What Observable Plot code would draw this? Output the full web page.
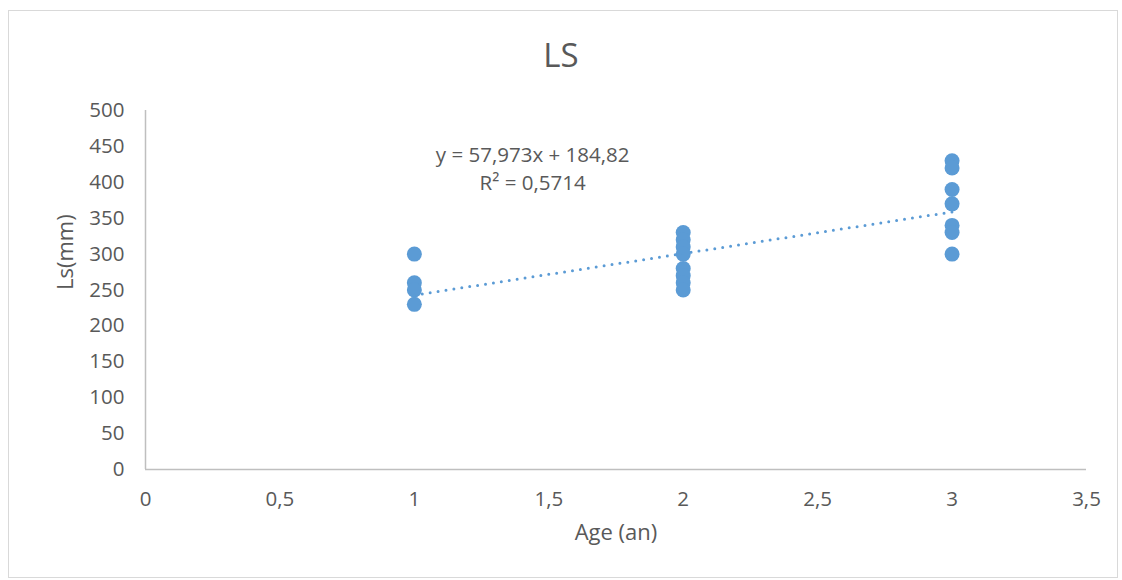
<!DOCTYPE html>
<html>
<head>
<meta charset="utf-8">
<script src="https://cdn.jsdelivr.net/npm/d3@7"></script>
<script src="https://cdn.jsdelivr.net/npm/@observablehq/plot@0.6"></script>
<style>
  html, body { margin: 0; padding: 0; background: #fff; }
  #wrap { position: relative; width: 1122px; height: 580px; font-family: "Open Sans", sans-serif; color: #595959; }
  #frame { position: absolute; left: 8px; top: 10px; width: 1110px; height: 568px; border: 1px solid #d9d9d9; box-sizing: border-box; }
  #title { position: absolute; left: 0; width: 1122px; top: 33px; text-align: center; font-size: 33px; color: #595959; line-height: 44px; }
  #chart { position: absolute; left: 0; top: 0; }
</style>
</head>
<body>
<div id="wrap">
  <div id="frame"></div>
  <div id="title">LS</div>
  <div id="chart"></div>
</div>
<script>
const title = "LS";
const xLabel = "Age (an)";
const yLabel = "Ls(mm)";
const ages = [1, 1, 1, 1, 2, 2, 2, 2, 2, 2, 2, 2, 3, 3, 3, 3, 3, 3, 3];
const lengths = [300, 260, 250, 230, 330, 320, 310, 300, 280, 270, 260, 250, 430, 420, 390, 370, 340, 330, 300];
const xTicks = [0, 0.5, 1, 1.5, 2, 2.5, 3, 3.5];
const yTicks = [0, 50, 100, 150, 200, 250, 300, 350, 400, 450, 500];
const slope = 57.973;
const intercept = 184.82;
const trendX = [1, 3];
const equationLines = ["y = 57,973x + 184,82", "R² = 0,5714"];

const points = ages.map((a, i) => ({x: a, y: lengths[i]}));
const trend = trendX.map(x => ({x, y: slope * x + intercept}));
const fmt = d => String(d).replace(".", ",");

const plot = Plot.plot({
  width: 1122,
  height: 580,
  marginLeft: 145,
  marginRight: 36,
  marginTop: 110,
  marginBottom: 111,
  style: {fontFamily: "'Open Sans', sans-serif", fontSize: "20.5px", color: "#595959", background: "transparent", overflow: "visible"},
  x: {domain: [0, 3.5], ticks: xTicks, tickFormat: fmt, tickSize: 0, tickPadding: 22, label: null},
  y: {domain: [0, 500], ticks: yTicks, tickSize: 0, tickPadding: 22, label: null},
  marks: [
    Plot.axisX({ticks: xTicks, tickFormat: fmt, tickSize: 0, tickPadding: 22, fontSize: 20.5, fill: "#595959", label: null}),
    Plot.axisY({ticks: yTicks, tickSize: 0, tickPadding: 21, fontSize: 20.5, fill: "#595959", label: null}),
    Plot.ruleY([0], {stroke: "#bfbfbf", strokeWidth: 1.5, strokeOpacity: 1}),
    Plot.ruleX([0], {stroke: "#bfbfbf", strokeWidth: 1.5, strokeOpacity: 1}),
    Plot.dot(points, {x: "x", y: "y", r: 7.5, fill: "#5b9bd5", stroke: null}),
    Plot.line(trend, {x: "x", y: "y", stroke: "#5b9bd5", strokeWidth: 3, strokeDasharray: "0,8", strokeLinecap: "round"}),
    Plot.text([equationLines.join("\n")], {x: 1.44, y: 421, text: d => d, fontSize: 20.5, fill: "#595959", lineHeight: 1.37, textAnchor: "middle"}),
    Plot.text([xLabel], {frameAnchor: "bottom", dy: 70, text: d => d, fontSize: 22, fill: "#595959"}),
    Plot.text([yLabel], {frameAnchor: "left", dx: -80, rotate: -90, text: d => d, fontSize: 22, fill: "#595959"})
  ]
});
document.getElementById("chart").appendChild(plot);
</script>
</body>
</html>
